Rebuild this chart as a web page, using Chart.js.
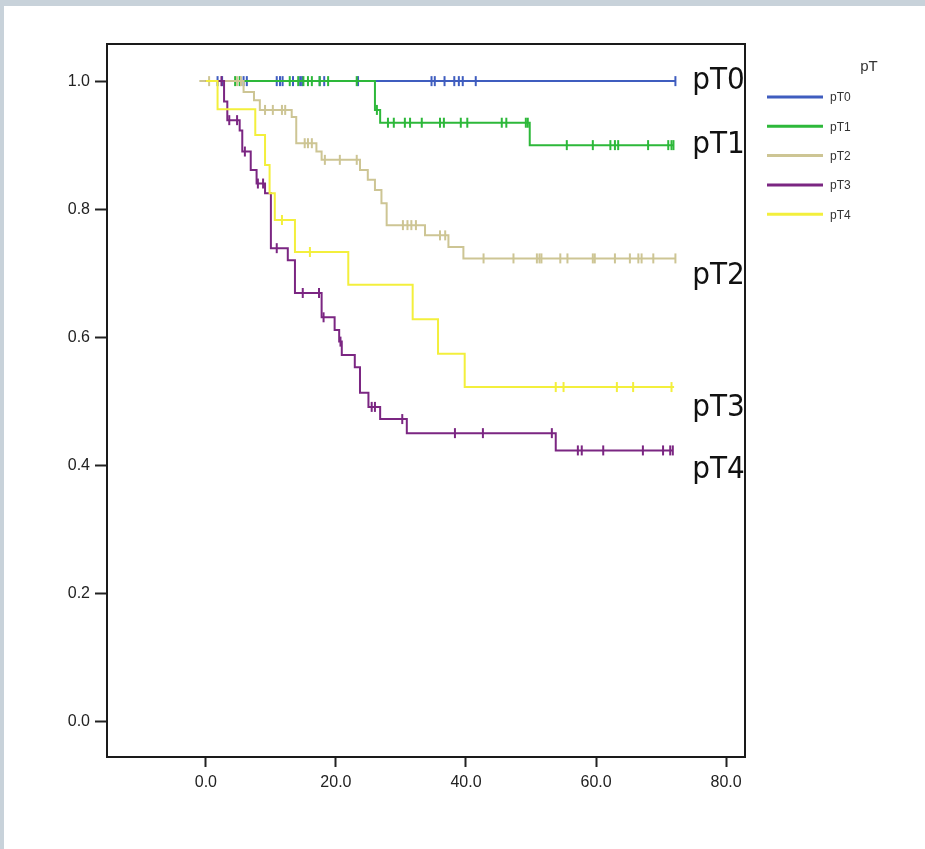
<!DOCTYPE html>
<html><head><meta charset="utf-8">
<script src="https://cdn.jsdelivr.net/npm/chart.js@4.4.1/dist/chart.umd.min.js"></script>
<style>
html,body{margin:0;padding:0;background:#c8d2da;width:925px;height:849px;overflow:hidden;}
#panel{position:absolute;left:4px;top:6px;width:921px;height:843px;background:#fff;}
canvas{display:block;}
</style></head><body>
<div id="panel"><canvas id="c" width="921" height="843"></canvas></div>
<script>
// ---- data ----
const groups = ['pT0', 'pT1', 'pT2', 'pT3', 'pT4'];
const groupColors = ['#3f5dbf', '#2db83a', '#cdc594', '#7b2682', '#f3ef3c'];

const pT0Start = 0;
const pT0Times = [];
const pT0Surv = [];
const pT0End = 72.2;
const pT0Censored = [1.8, 2.5, 5.8, 6.3, 10.9, 11.4, 11.8, 13.4, 14.5, 14.8, 17.5, 18.2, 23.4, 34.7, 35.2, 36.7, 38.2, 38.9, 39.5, 41.5, 72.2];

const pT1Start = 0;
const pT1Times = [26.0, 26.8, 49.8];
const pT1Surv = [0.955, 0.935, 0.900];
const pT1End = 71.9;
const pT1Censored = [4.5, 5.2, 12.9, 14.2, 15.0, 15.7, 16.3, 17.5, 18.8, 23.2, 26.3, 28.0, 28.9, 30.6, 31.4, 33.2, 36.0, 36.6, 39.2, 40.2, 45.5, 46.2, 49.2, 49.5, 55.5, 59.5, 62.2, 62.9, 63.4, 68.0, 71.1, 71.6, 71.9];

const pT2Start = -1.0;
const pT2Times = [5.8, 7.4, 8.3, 13.2, 13.9, 17.0, 17.8, 23.7, 24.9, 26.0, 27.0, 27.8, 33.7, 37.3, 39.6];
const pT2Surv = [0.983, 0.970, 0.955, 0.944, 0.903, 0.890, 0.877, 0.861, 0.846, 0.830, 0.809, 0.775, 0.759, 0.741, 0.723];
const pT2End = 72.2;
const pT2Censored = [0.5, 4.8, 5.4, 9.1, 10.3, 11.7, 12.2, 15.2, 15.7, 16.3, 18.3, 20.6, 23.2, 30.3, 31.0, 31.6, 32.3, 36.0, 36.8, 42.7, 47.3, 50.9, 51.3, 51.6, 54.5, 55.6, 59.5, 59.8, 62.9, 65.2, 66.5, 67.0, 68.8, 72.2];

const pT3Start = 0;
const pT3Times = [2.8, 3.3, 5.2, 5.6, 6.9, 7.8, 9.1, 10.0, 12.6, 13.7, 17.8, 19.8, 20.5, 20.9, 22.9, 23.7, 25.0, 26.8, 30.9, 53.8];
const pT3Surv = [0.968, 0.939, 0.923, 0.890, 0.861, 0.840, 0.825, 0.739, 0.720, 0.669, 0.631, 0.611, 0.593, 0.572, 0.553, 0.513, 0.491, 0.472, 0.450, 0.423];
const pT3End = 71.8;
const pT3Censored = [2.4, 3.6, 4.8, 6.0, 8.0, 8.8, 10.9, 14.9, 17.4, 18.1, 20.7, 25.5, 26.0, 30.2, 38.3, 42.6, 53.2, 57.2, 57.8, 61.1, 67.2, 70.3, 71.4, 71.8];

const pT4Start = 0;
const pT4Times = [1.8, 7.6, 9.1, 9.8, 10.6, 13.7, 21.9, 31.8, 35.7, 39.8];
const pT4Surv = [0.956, 0.916, 0.869, 0.825, 0.783, 0.733, 0.682, 0.628, 0.574, 0.522];
const pT4End = 72.0;
const pT4Censored = [11.7, 16.0, 53.8, 55.0, 63.2, 65.7, 71.6];

const xTickValues = [0, 20, 40, 60, 80];
const yTickValues = [0, 0.2, 0.4, 0.6, 0.8, 1.0];
const xRange = [-15.2, 82.9];
const yRange = [-0.056, 1.058];

const legendTitle = 'pT';
// curve annotations (as printed on the original figure)
const curveLabels = ['pT0', 'pT1', 'pT2', 'pT3', 'pT4'];
const curveLabelX = 74.8;
const curveLabelY = [1.0, 0.9, 0.695, 0.49, 0.393];

// ---- build datasets ----
const starts = [pT0Start, pT1Start, pT2Start, pT3Start, pT4Start];
const timesAll = [pT0Times, pT1Times, pT2Times, pT3Times, pT4Times];
const survAll = [pT0Surv, pT1Surv, pT2Surv, pT3Surv, pT4Surv];
const ends = [pT0End, pT1End, pT2End, pT3End, pT4End];
const censAll = [pT0Censored, pT1Censored, pT2Censored, pT3Censored, pT4Censored];

function survAt(g, t) {
  let s = 1;
  const ts = timesAll[g], vs = survAll[g];
  for (let i = 0; i < ts.length; i++) if (t >= ts[i]) s = vs[i];
  return s;
}

const datasets = [];
groups.forEach((name, g) => {
  const pts = [{x: starts[g], y: 1}];
  timesAll[g].forEach((t, i) => pts.push({x: t, y: survAll[g][i]}));
  pts.push({x: ends[g], y: survAt(g, ends[g])});
  datasets.push({
    label: name, data: pts, type: 'line', stepped: true,
    borderColor: groupColors[g], backgroundColor: groupColors[g],
    borderWidth: 2, pointRadius: 0, fill: false, order: 20 - g * 2 + 1,
    isCurve: true
  });
  datasets.push({
    label: name + ' censored',
    data: censAll[g].map(t => ({x: t, y: survAt(g, t)})),
    type: 'line', showLine: false,
    pointStyle: 'line', rotation: 90, pointRadius: 5, pointHoverRadius: 5,
    pointBorderWidth: 2, borderColor: groupColors[g], backgroundColor: groupColors[g],
    order: 20 - g * 2, isCurve: false
  });
});

const sansFont = '"Liberation Sans", Arial, sans-serif';

const frame = {
  id: 'frame',
  afterDatasetsDraw(chart) {
    const {ctx, chartArea: a, scales} = chart;
    ctx.save();
    // box around plot
    ctx.strokeStyle = '#1a1a1a';
    ctx.lineWidth = 2;
    ctx.strokeRect(a.left, a.top, a.right - a.left, a.bottom - a.top);
    // curve annotations
    ctx.fillStyle = '#111';
    ctx.font = '31px "Liberation Sans Narrow", "DejaVu Sans Condensed", sans-serif';
    ctx.textBaseline = 'middle';
    ctx.textAlign = 'left';
    curveLabels.forEach((txt, i) => {
      ctx.fillText(txt, scales.x.getPixelForValue(curveLabelX), scales.y.getPixelForValue(curveLabelY[i]));
    });
    // legend
    const lx = a.right + 22, ly = a.top + 53, step = 29.3;
    ctx.fillStyle = '#333';
    ctx.font = '15px ' + sansFont;
    ctx.textAlign = 'center';
    ctx.fillText(legendTitle, a.right + 124, a.top + 23);
    ctx.font = '12px ' + sansFont;
    ctx.textAlign = 'left';
    chart.data.datasets.filter(d => d.isCurve).forEach((d, i) => {
      const y = ly + i * step;
      ctx.strokeStyle = d.borderColor;
      ctx.lineWidth = 3;
      ctx.beginPath();
      ctx.moveTo(lx, y);
      ctx.lineTo(lx + 56, y);
      ctx.stroke();
      ctx.fillStyle = '#333';
      ctx.fillText(d.label, lx + 63, y + 1);
    });
    ctx.restore();
  }
};

const tickFont = {family: sansFont, size: 16};

new Chart(document.getElementById('c'), {
  type: 'line',
  data: {datasets},
  plugins: [frame],
  options: {
    responsive: false, animation: false, devicePixelRatio: 1,
    layout: {padding: {top: 38, left: 0, right: 180, bottom: 0}},
    plugins: {
      tooltip: {enabled: false},
      legend: {display: false}
    },
    scales: {
      x: {
        type: 'linear', min: xRange[0], max: xRange[1],
        afterBuildTicks: s => { s.ticks = xTickValues.map(v => ({value: v})); },
        afterFit: s => { s.height = 92; },
        ticks: {callback: v => Number(v).toFixed(1), color: '#222', font: tickFont, padding: 6, maxRotation: 0},
        grid: {display: true, drawOnChartArea: false, drawTicks: true, tickLength: 10, tickWidth: 2, tickColor: '#222'},
        border: {display: true, color: '#1a1a1a', width: 2}
      },
      y: {
        type: 'linear', min: yRange[0], max: yRange[1],
        afterBuildTicks: s => { s.ticks = yTickValues.map(v => ({value: v})); },
        afterFit: s => { s.width = 103; },
        ticks: {callback: v => Number(v).toFixed(1), color: '#222', font: tickFont, padding: 5},
        grid: {display: true, drawOnChartArea: false, drawTicks: true, tickLength: 12, tickWidth: 2, tickColor: '#222'},
        border: {display: true, color: '#1a1a1a', width: 2}
      }
    }
  }
});
</script>
</body></html>
